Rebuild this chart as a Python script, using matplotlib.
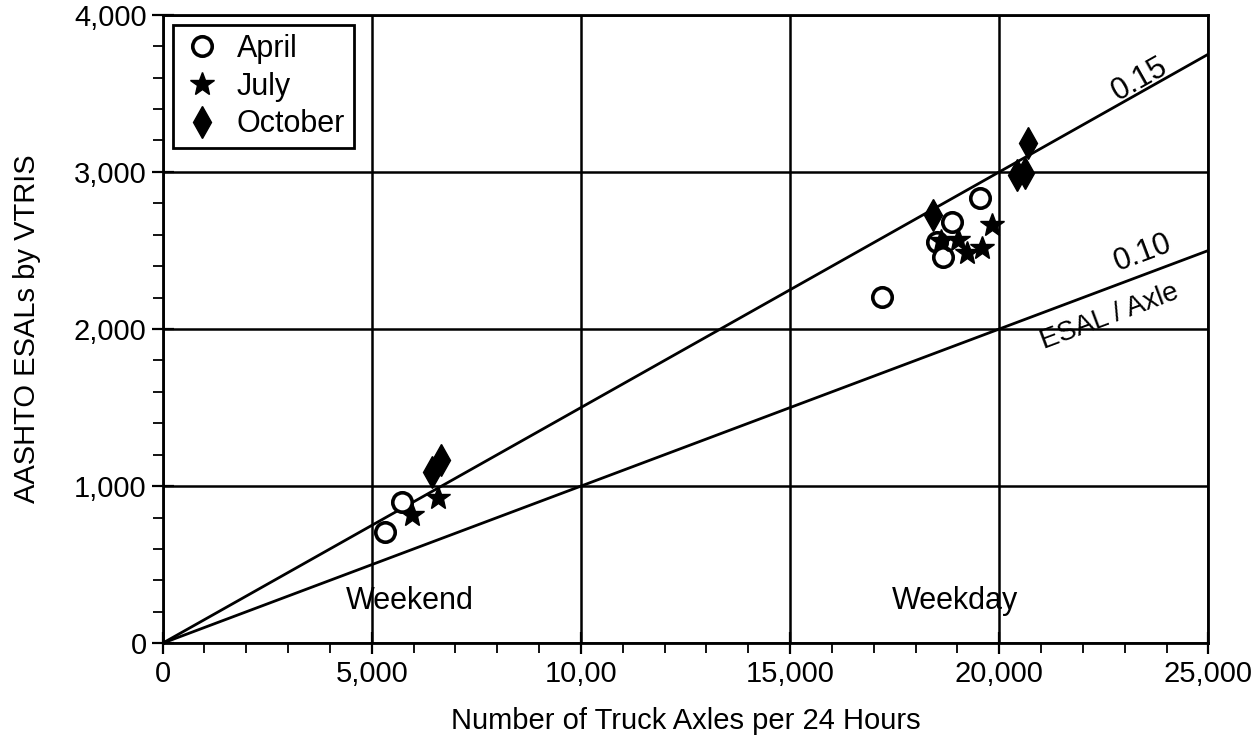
import numpy as np
import matplotlib.pyplot as plt
from matplotlib.ticker import MultipleLocator

plt.rcParams['font.family'] = ['Liberation Sans', 'DejaVu Sans']

# ESAL/axle reference lines
rates = [0.15, 0.10]
x_line = [0, 25000]

# data
april_x = [5306, 5712, 17185, 19550, 18881, 18500, 18643]
april_y = [707, 898, 2204, 2834, 2682, 2554, 2459]
july_x = [5951, 6573, 19814, 19575, 19216, 19001, 18618]
july_y = [815, 924, 2662, 2516, 2484, 2567, 2560]
oct_x = [6430, 6644, 18404, 20435, 20626, 20698]
oct_y = [1089, 1166, 2726, 2981, 2994, 3185]

xticks = [0, 5000, 10000, 15000, 20000, 25000]
xticklabels = ['0', '5,000', '10,00', '15,000', '20,000', '25,000']
yticks = [0, 1000, 2000, 3000, 4000]
yticklabels = ['0', '1,000', '2,000', '3,000', '4,000']

fig = plt.figure(figsize=(12.51, 7.41), dpi=100)
ax = fig.add_axes([0.130, 0.132, 0.836, 0.848])

for r in rates:
    ax.plot(x_line, [r * v for v in x_line], color='black', lw=2.0, zorder=2)

ax.plot(april_x, april_y, 'o', mfc='white', mec='black', mew=2.6, ms=14,
        ls='none', label='April', zorder=4)
ax.plot(july_x, july_y, '*', color='black', ms=18, ls='none',
        label='July', zorder=4)
ax.plot(oct_x, oct_y, 'd', color='black', ms=16, ls='none',
        label='October', zorder=4)

ax.set_xlim(0, 25000)
ax.set_ylim(0, 4000)
ax.set_xticks(xticks)
ax.set_xticklabels(xticklabels)
ax.set_yticks(yticks)
ax.set_yticklabels(yticklabels)
ax.xaxis.set_minor_locator(MultipleLocator(1000))
ax.yaxis.set_minor_locator(MultipleLocator(200))
ax.tick_params(which='major', direction='inout', length=16, width=1.6,
               labelsize=21, colors='black')
ax.tick_params(which='minor', direction='out', length=7, width=1.3)
ax.tick_params(axis='x', pad=4)
ax.grid(True, which='major', color='black', lw=1.8)
ax.set_axisbelow(True)
for s in ax.spines.values():
    s.set_linewidth(2.0)

# last x label sits tight against the right edge
ax.get_xticklabels()[-1].set_horizontalalignment('center')
ax.get_xticklabels()[-1].set_x(0.997)

ax.set_xlabel('Number of Truck Axles per 24 Hours', fontsize=21, labelpad=14)
ax.set_ylabel('AASHTO ESALs by VTRIS', fontsize=21, labelpad=24)

# labels along the lines
ang15 = 29.4
ang10 = 20.6
ax.text(23350, 3586, '0.15', fontsize=22, rotation=ang15,
        ha='center', va='center', rotation_mode='anchor')
ax.text(23420, 2484, '0.10', fontsize=22, rotation=ang10,
        ha='center', va='center', rotation_mode='anchor')
ax.text(22630, 2076, 'ESAL / Axle', fontsize=20, rotation=ang10,
        ha='center', va='center', rotation_mode='anchor')
ax.text(5900, 268, 'Weekend', fontsize=22, ha='center', va='center')
ax.text(18930, 268, 'Weekday', fontsize=22, ha='center', va='center')

leg = ax.legend(loc='upper left', fontsize=22, frameon=True, fancybox=False,
                edgecolor='black', framealpha=1, borderpad=0.3,
                handletextpad=0.5, labelspacing=0.25, handlelength=1.3,
                borderaxespad=0, bbox_to_anchor=(0.0096, 0.984))
leg.get_frame().set_linewidth(2.0)

fig.savefig('out.png', dpi=100)
